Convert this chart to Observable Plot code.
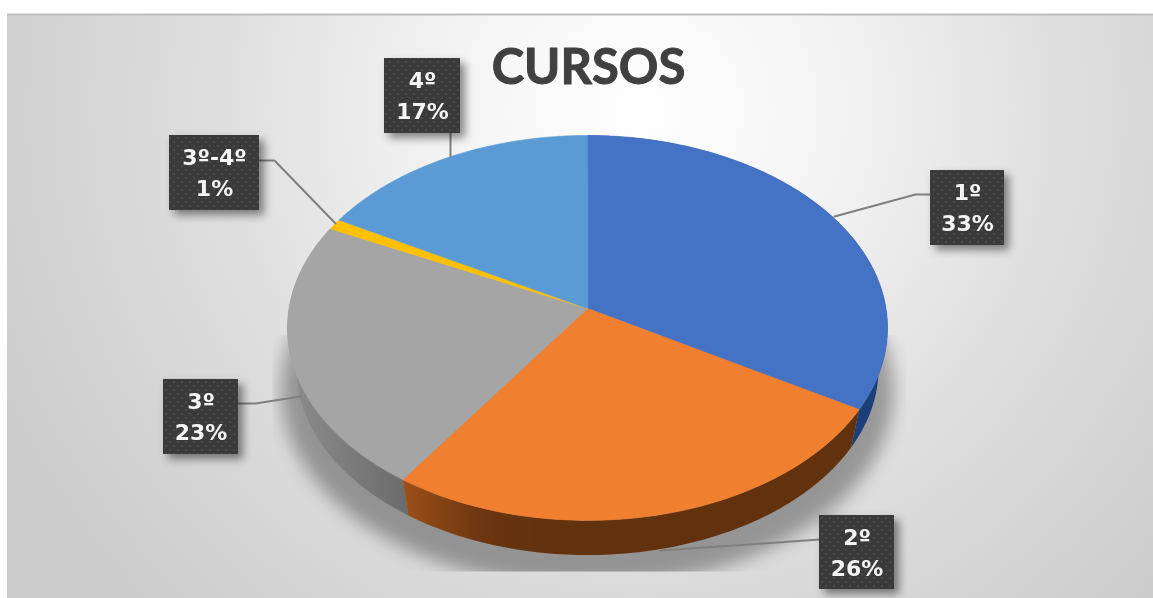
<!DOCTYPE html>
<html>
<head>
<meta charset="utf-8">
<script src="https://cdn.jsdelivr.net/npm/d3@7"></script>
<script src="https://cdn.jsdelivr.net/npm/@observablehq/plot@0.6"></script>
<style>
  html, body { margin: 0; padding: 0; background: #fff; }
  svg { display: block; }
  .pie-shadow { filter: blur(9px); clip-path: url(#shadowClip); }
  .box { filter: drop-shadow(5px 5px 4px rgba(0,0,0,.45)); }
  .soft { filter: blur(.55px); }
</style>
</head>
<body>
<div id="chart"></div>
<script>
// Data
const categories = ["1º", "2º", "3º", "3º-4º", "4º"];
const values = [33.4, 26.2, 22.6, 0.9, 16.9];
const percentLabels = ["33%", "26%", "23%", "1%", "17%"];
const topColors = ["#4472C4", "#F07F2F", "#A5A5A5", "#FFC000", "#5B9BD5"];
const title = "CURSOS";

// Layout of the picture (pixels)
const W = 1153, H = 598;
const pie = {cx: 587, cy: 308, rx: 298.5, ry: 190.5, k: 0.101, drop: 41, shrink: 0.97};
const boxes = [
  {x1: 930, x2: 1004, y1: 170, y2: 245},
  {x1: 819, x2: 894, y1: 515, y2: 589},
  {x1: 163, x2: 238, y1: 379, y2: 454},
  {x1: 169, x2: 259, y1: 135, y2: 210},
  {x1: 384, x2: 460, y1: 58, y2: 133}
];
const leaders = [
  [[930, 194], [915, 194], [834, 216]],
  [[819, 539], [805, 540], [660, 550]],
  [[238, 403], [255, 403], [300, 396]],
  [[259, 160], [274, 160], [335, 223]],
  [[450, 133], [450, 156]]
];

// Perspective view of the pie disc
function project(deg, scale = 1, drop = 0) {
  const a = deg * Math.PI / 180, u = Math.sin(a), v = -Math.cos(a);
  const d = 1 - pie.k * v;
  return [pie.cx + scale * pie.rx * u / d, pie.cy + drop + scale * pie.ry * v / d];
}
function arc(a0, a1, scale, drop) {
  const n = Math.max(2, Math.ceil(Math.abs(a1 - a0)));
  return d3.range(n + 1).map(i => project(a0 + (a1 - a0) * i / n, scale, drop));
}
const total = d3.sum(values);
let acc = 0;
const slices = values.map(v => {
  const a0 = acc / total * 360; acc += v;
  return {a0, a1: acc / total * 360};
});
const face = s => [[pie.cx, pie.cy], ...arc(s.a0, s.a1, 1, 0)];
const wall = s => [...arc(s.a0, s.a1, 1, 0), ...arc(s.a1, s.a0, pie.shrink, pie.drop)];
const shadowOutline = arc(0, 360, 1.02, 62);

const polygon = (pts, fill, extra = {}) =>
  Plot.line(pts, {x: d => d[0], y: d => d[1], fill, stroke: "none", curve: "linear-closed", ...extra});

const defs = () => d3.create("svg:g").html(`
  <defs>
    <radialGradient id="bg" gradientUnits="userSpaceOnUse" cx="640" cy="110" r="700">
      <stop offset="0" stop-color="#ffffff"/>
      <stop offset=".25" stop-color="#f5f5f5"/>
      <stop offset=".6" stop-color="#dfdfdf"/>
      <stop offset=".85" stop-color="#d3d3d3"/>
      <stop offset="1" stop-color="#cccccc"/>
    </radialGradient>
    <linearGradient id="wallGray" gradientUnits="userSpaceOnUse" x1="290" x2="405" y1="0" y2="0">
      <stop offset="0" stop-color="#8c8c8c"/><stop offset="1" stop-color="#6c6c6c"/>
    </linearGradient>
    <linearGradient id="wallOrange" gradientUnits="userSpaceOnUse" x1="403" x2="540" y1="0" y2="0">
      <stop offset="0" stop-color="#9c4f18"/><stop offset=".6" stop-color="#6a350f"/><stop offset="1" stop-color="#62320f"/>
    </linearGradient>
    <pattern id="dots" patternUnits="userSpaceOnUse" width="8" height="8">
      <rect width="8" height="8" fill="#3a3a3a"/>
      <circle cx="2" cy="2" r="1.1" fill="#4c4c4c"/>
      <circle cx="6" cy="6" r="1.1" fill="#4c4c4c"/>
    </pattern>
    <clipPath id="shadowClip"><rect x="272" y="335" width="634" height="236"/></clipPath>
  </defs>`).node();

const labelText = (arr, dy) => Plot.text(boxes, {
  x: d => (d.x1 + d.x2) / 2,
  y: d => d.y1,
  text: (d, i) => arr[i],
  dy,
  fill: "#f4f4f4",
  fontFamily: "'DejaVu Sans', sans-serif",
  fontWeight: 700,
  fontSize: 22
});

const chart = Plot.plot({
  width: W,
  height: H,
  margin: 0,
  style: {background: "transparent"},
  x: {domain: [0, W], range: [0, W], axis: null},
  y: {domain: [0, H], range: [0, H], axis: null},
  marks: [
    defs,
    Plot.rect([{}], {x1: 7, x2: W, y1: 14, y2: H, fill: "url(#bg)"}),
    Plot.ruleY([14], {x1: 7, x2: W, stroke: "#bdbdbd", strokeWidth: 2}),
    polygon(shadowOutline, "#000", {fillOpacity: 0.33, className: "pie-shadow"}),
    polygon(wall(slices[0]), "#1B3F78"),
    polygon(wall(slices[2]), "url(#wallGray)"),
    polygon(wall(slices[1]), "url(#wallOrange)"),
    ...slices.map((s, i) => polygon(face(s), topColors[i], {stroke: topColors[i], strokeWidth: 0.6})),
    ...leaders.map(l => Plot.line(l, {x: d => d[0], y: d => d[1], stroke: "#7f7f7f", strokeWidth: 2, curve: "linear"})),
    Plot.rect(boxes, {x1: "x1", x2: "x2", y1: "y1", y2: "y2", fill: "url(#dots)", className: "box"}),
    labelText(categories, 22),
    labelText(percentLabels, 53),
    Plot.text([title], {
      x: 588, y: 68, text: d => d,
      fill: "#404040",
      stroke: "#404040",
      strokeWidth: 1,
      fontFamily: "Lato, 'Open Sans', sans-serif",
      fontWeight: 700,
      fontSize: 49
    })
  ]
});
chart.classList.add("soft");
document.getElementById("chart").append(chart);
</script>
</body>
</html>
